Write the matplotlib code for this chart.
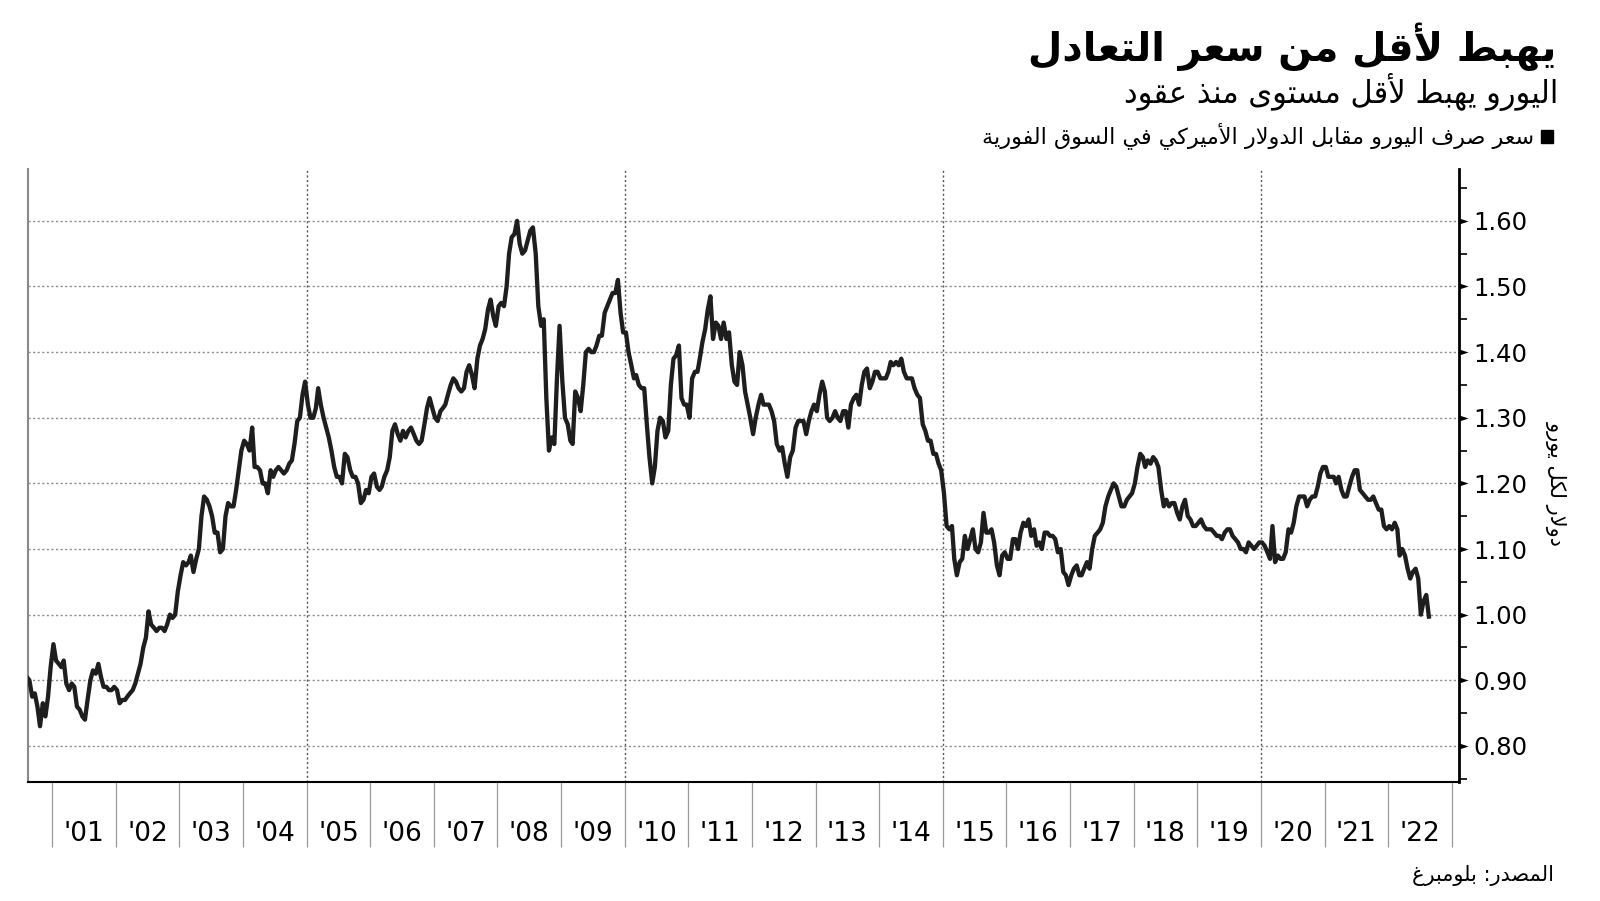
import matplotlib
matplotlib.use("Agg")
import matplotlib.pyplot as plt
import matplotlib.dates as mdates
from matplotlib.patches import Rectangle
import pandas as pd

plt.rcParams["font.family"] = ["DejaVu Sans"]

# EUR/USD spot: two readings per month (about the 8th and the 23rd)
eur_2000 = [0.905, 0.90, 0.875, 0.88, 0.86, 0.83, 0.865, 0.845, 0.875, 0.92]  # Aug-Dec
eur_2001 = [0.955, 0.93, 0.925, 0.92, 0.93, 0.895, 0.885, 0.895, 0.89, 0.86, 0.855, 0.845,
            0.84, 0.87, 0.90, 0.915, 0.91, 0.925, 0.905, 0.89, 0.89, 0.885, 0.885, 0.89]
eur_2002 = [0.885, 0.865, 0.87, 0.87, 0.875, 0.88, 0.885, 0.895, 0.91, 0.925, 0.95, 0.965,
            1.005, 0.985, 0.98, 0.975, 0.98, 0.98, 0.975, 0.985, 1.00, 0.995, 1.00, 1.035]
eur_2003 = [1.06, 1.08, 1.075, 1.08, 1.09, 1.065, 1.085, 1.10, 1.15, 1.18, 1.175, 1.165,
            1.15, 1.125, 1.125, 1.095, 1.10, 1.15, 1.17, 1.165, 1.165, 1.19, 1.22, 1.25]
eur_2004 = [1.265, 1.26, 1.25, 1.285, 1.225, 1.225, 1.22, 1.20, 1.20, 1.185, 1.22, 1.21,
            1.22, 1.225, 1.22, 1.215, 1.22, 1.23, 1.235, 1.26, 1.295, 1.30, 1.335, 1.355]
eur_2005 = [1.32, 1.30, 1.30, 1.315, 1.345, 1.32, 1.30, 1.285, 1.27, 1.25, 1.225, 1.21,
            1.21, 1.20, 1.245, 1.24, 1.22, 1.21, 1.21, 1.20, 1.17, 1.175, 1.19, 1.185]
eur_2006 = [1.21, 1.215, 1.195, 1.19, 1.195, 1.21, 1.22, 1.24, 1.28, 1.29, 1.275, 1.265,
            1.28, 1.27, 1.28, 1.285, 1.275, 1.265, 1.26, 1.265, 1.29, 1.315, 1.33, 1.315]
eur_2007 = [1.30, 1.295, 1.31, 1.315, 1.32, 1.335, 1.35, 1.36, 1.355, 1.345, 1.34, 1.345,
            1.37, 1.38, 1.365, 1.345, 1.39, 1.41, 1.42, 1.435, 1.465, 1.48, 1.455, 1.44]
eur_2008 = [1.47, 1.475, 1.47, 1.50, 1.55, 1.575, 1.58, 1.60, 1.565, 1.55, 1.555, 1.57,
            1.585, 1.59, 1.55, 1.47, 1.44, 1.45, 1.33, 1.25, 1.27, 1.26, 1.36, 1.44]
eur_2009 = [1.355, 1.30, 1.29, 1.265, 1.26, 1.34, 1.33, 1.31, 1.35, 1.40, 1.405, 1.40,
            1.40, 1.41, 1.425, 1.425, 1.46, 1.47, 1.48, 1.49, 1.49, 1.51, 1.46, 1.43]
eur_2010 = [1.43, 1.40, 1.38, 1.36, 1.365, 1.35, 1.345, 1.345, 1.29, 1.24, 1.20, 1.225,
            1.28, 1.30, 1.295, 1.27, 1.28, 1.35, 1.39, 1.395, 1.41, 1.33, 1.32, 1.32]
eur_2011 = [1.30, 1.36, 1.37, 1.37, 1.39, 1.415, 1.435, 1.465, 1.485, 1.42, 1.445, 1.44,
            1.42, 1.445, 1.42, 1.43, 1.38, 1.355, 1.35, 1.40, 1.38, 1.34, 1.32, 1.30]
eur_2012 = [1.275, 1.30, 1.32, 1.335, 1.32, 1.32, 1.32, 1.31, 1.295, 1.26, 1.25, 1.255,
            1.23, 1.21, 1.24, 1.25, 1.285, 1.295, 1.295, 1.295, 1.275, 1.295, 1.31, 1.32]
eur_2013 = [1.31, 1.335, 1.355, 1.34, 1.30, 1.295, 1.30, 1.31, 1.30, 1.295, 1.31, 1.31,
            1.285, 1.32, 1.33, 1.335, 1.32, 1.35, 1.37, 1.375, 1.345, 1.355, 1.37, 1.37]
eur_2014 = [1.36, 1.36, 1.36, 1.37, 1.385, 1.38, 1.385, 1.38, 1.39, 1.37, 1.36, 1.36,
            1.36, 1.345, 1.335, 1.33, 1.29, 1.28, 1.265, 1.265, 1.245, 1.245, 1.23, 1.22]
eur_2015 = [1.185, 1.135, 1.13, 1.135, 1.085, 1.06, 1.08, 1.085, 1.12, 1.10, 1.115, 1.13,
            1.10, 1.095, 1.11, 1.155, 1.125, 1.125, 1.13, 1.11, 1.075, 1.06, 1.09, 1.095]
eur_2016 = [1.085, 1.085, 1.115, 1.115, 1.10, 1.125, 1.14, 1.135, 1.145, 1.12, 1.13, 1.105,
            1.11, 1.10, 1.125, 1.125, 1.12, 1.12, 1.115, 1.095, 1.10, 1.065, 1.06, 1.045]
eur_2017 = [1.06, 1.07, 1.075, 1.06, 1.06, 1.07, 1.08, 1.07, 1.10, 1.12, 1.125, 1.13,
            1.14, 1.165, 1.18, 1.19, 1.20, 1.195, 1.18, 1.165, 1.165, 1.175, 1.18, 1.185]
eur_2018 = [1.20, 1.225, 1.245, 1.24, 1.225, 1.235, 1.23, 1.24, 1.235, 1.225, 1.19, 1.165,
            1.175, 1.165, 1.17, 1.17, 1.155, 1.145, 1.165, 1.175, 1.15, 1.145, 1.135, 1.135]
eur_2019 = [1.14, 1.145, 1.135, 1.13, 1.13, 1.13, 1.125, 1.12, 1.12, 1.115, 1.125, 1.13,
            1.13, 1.12, 1.115, 1.11, 1.10, 1.10, 1.095, 1.11, 1.105, 1.10, 1.105, 1.11]
eur_2020 = [1.11, 1.105, 1.095, 1.085, 1.135, 1.08, 1.09, 1.085, 1.085, 1.095, 1.13, 1.125,
            1.14, 1.165, 1.18, 1.18, 1.18, 1.165, 1.175, 1.18, 1.18, 1.195, 1.215, 1.225]
eur_2021 = [1.225, 1.21, 1.21, 1.21, 1.20, 1.21, 1.19, 1.18, 1.18, 1.195, 1.21, 1.22,
            1.22, 1.19, 1.185, 1.18, 1.175, 1.175, 1.18, 1.17, 1.16, 1.16, 1.135, 1.13]
eur_2022 = [1.135, 1.13, 1.14, 1.13, 1.09, 1.10, 1.09, 1.07, 1.055, 1.065, 1.07, 1.055,
            1.00, 1.02, 1.03, 0.997]  # Jan-Aug

years = list(range(2000, 2023))
yearly = [eur_2000, eur_2001, eur_2002, eur_2003, eur_2004, eur_2005, eur_2006, eur_2007,
          eur_2008, eur_2009, eur_2010, eur_2011, eur_2012, eur_2013, eur_2014, eur_2015,
          eur_2016, eur_2017, eur_2018, eur_2019, eur_2020, eur_2021, eur_2022]

year_labels = ["'%02d" % (y % 100) for y in range(2001, 2023)]
y_ticks = [0.80, 0.90, 1.00, 1.10, 1.20, 1.30, 1.40, 1.50, 1.60]

title = "يهبط لأقل من سعر التعادل"
subtitle = "اليورو يهبط لأقل مستوى منذ عقود"
legend_text = "سعر صرف اليورو مقابل الدولار الأميركي في السوق الفورية"
y_title = "دولار لكل يورو"
source = "المصدر: بلومبرغ"

# matplotlib has no Arabic shaping, so pick the contextual glyphs by hand
DUAL = {"ب": 0xFE8F, "ت": 0xFE95, "ث": 0xFE99, "ج": 0xFE9D, "ح": 0xFEA1, "خ": 0xFEA5,
        "س": 0xFEB1, "ش": 0xFEB5, "ص": 0xFEB9, "ض": 0xFEBD, "ط": 0xFEC1, "ظ": 0xFEC5,
        "ع": 0xFEC9, "غ": 0xFECD, "ف": 0xFED1, "ق": 0xFED5, "ك": 0xFED9, "ل": 0xFEDD,
        "م": 0xFEE1, "ن": 0xFEE5, "ه": 0xFEE9, "ي": 0xFEF1}
RIGHT = {"ا": 0xFE8D, "أ": 0xFE83, "إ": 0xFE87, "آ": 0xFE81, "ة": 0xFE93, "د": 0xFEA9,
         "ذ": 0xFEAB, "ر": 0xFEAD, "ز": 0xFEAF, "و": 0xFEED, "ى": 0xFEEF}
LAM_ALEF = {"ا": 0xFEFB, "أ": 0xFEF7, "إ": 0xFEF9, "آ": 0xFEF5}


def shape(text):
    units = []
    i = 0
    while i < len(text):
        c = text[i]
        if c == "ل" and i + 1 < len(text) and text[i + 1] in LAM_ALEF:
            units.append(("R", LAM_ALEF[text[i + 1]]))
            i += 2
            continue
        if c in DUAL:
            units.append(("D", DUAL[c]))
        elif c in RIGHT:
            units.append(("R", RIGHT[c]))
        else:
            units.append(("N", c))
        i += 1
    out = []
    for k, (kind, val) in enumerate(units):
        if kind == "N":
            out.append(val)
            continue
        prev_j = k > 0 and units[k - 1][0] == "D"
        next_j = kind == "D" and k + 1 < len(units) and units[k + 1][0] in "DR"
        if kind == "R":
            code = val + 1 if prev_j else val
        elif prev_j and next_j:
            code = val + 3
        elif prev_j:
            code = val + 1
        elif next_j:
            code = val + 2
        else:
            code = val
        out.append(chr(code))
    return "".join(reversed(out))


def main():
    dates, values = [], []
    for year, vals in zip(years, yearly):
        first_month = 8 if year == 2000 else 1
        for i, v in enumerate(vals):
            day = 8 if i % 2 == 0 else 23
            dates.append(pd.Timestamp(year, first_month + i // 2, day))
            values.append(v)

    fig = plt.figure(figsize=(16, 9.01), dpi=100)
    ax = fig.add_axes([28 / 1600, 1 - 782 / 901, 1431 / 1600, 613 / 901])

    ax.plot(dates, values, color="#1e1e1e", lw=3.1, solid_joinstyle="round", zorder=3)

    ax.set_xlim(pd.Timestamp("2000-08-15"), pd.Timestamp("2023-02-12"))
    ax.set_ylim(0.745, 1.679)

    # year separators below the plot, labels centred between them
    ax.xaxis.set_major_locator(mdates.YearLocator(1))
    ax.xaxis.set_major_formatter(plt.NullFormatter())
    ax.xaxis.set_minor_locator(plt.FixedLocator(
        [mdates.date2num(pd.Timestamp(y, 7, 2)) for y in range(2001, 2023)]))
    ax.xaxis.set_minor_formatter(plt.FixedFormatter(year_labels))
    ax.tick_params(axis="x", which="major", length=47, width=0.9, color="#9a9a9a")
    ax.tick_params(axis="x", which="minor", length=0, pad=28, labelsize=19)

    ax.yaxis.tick_right()
    ax.set_yticks(y_ticks)
    ax.set_yticklabels(["%.2f" % v for v in y_ticks])
    ax.set_yticks([v + 0.05 for v in [0.70] + y_ticks], minor=True)
    ax.tick_params(axis="y", which="major", length=0, pad=10, labelsize=17.5)
    ax.tick_params(axis="y", which="minor", length=5.5, width=1.2, color="black")
    tri = [(0, -0.33), (1, 0), (0, 0.33)]
    ax.plot([1] * len(y_ticks), y_ticks, ls="none", marker=tri, ms=13, mew=0,
            color="black", transform=ax.get_yaxis_transform(), clip_on=False)

    ax.grid(axis="y", which="major", color="#8a8a8a", lw=1.0, ls=(0, (1.5, 1.8)))
    for y in (2005, 2010, 2015, 2020):
        ax.axvline(pd.Timestamp(y, 1, 1), color="#555555", lw=1.0, ls=(0, (1.5, 1.8)))

    ax.spines["top"].set_visible(False)
    ax.spines["left"].set_color("#8a8a8a")
    ax.spines["left"].set_linewidth(1.5)
    ax.spines["bottom"].set_linewidth(1.5)
    ax.spines["right"].set_linewidth(2.0)

    fig.text(1556 / 1600, 1 - 47 / 901, shape(title), ha="right", va="center",
             fontsize=28.5, fontweight="bold")
    fig.text(1558 / 1600, 1 - 92 / 901, shape(subtitle), ha="right", va="center",
             fontsize=22)
    fig.patches.append(Rectangle((1541 / 1600, 1 - 143 / 901), 12 / 1600, 13 / 901,
                                 transform=fig.transFigure, color="black"))
    fig.text(1534 / 1600, 1 - 136 / 901, shape(legend_text), ha="right", va="center",
             fontsize=16)
    fig.text(1556 / 1600, 1 - 483 / 901, shape(y_title), ha="center", va="center",
             rotation=270, fontsize=15)
    fig.text(1554 / 1600, 1 - 875 / 901, shape(source), ha="right", va="center",
             fontsize=15)

    fig.savefig("out.png", dpi=100, facecolor="white")


if __name__ == "__main__":
    main()
